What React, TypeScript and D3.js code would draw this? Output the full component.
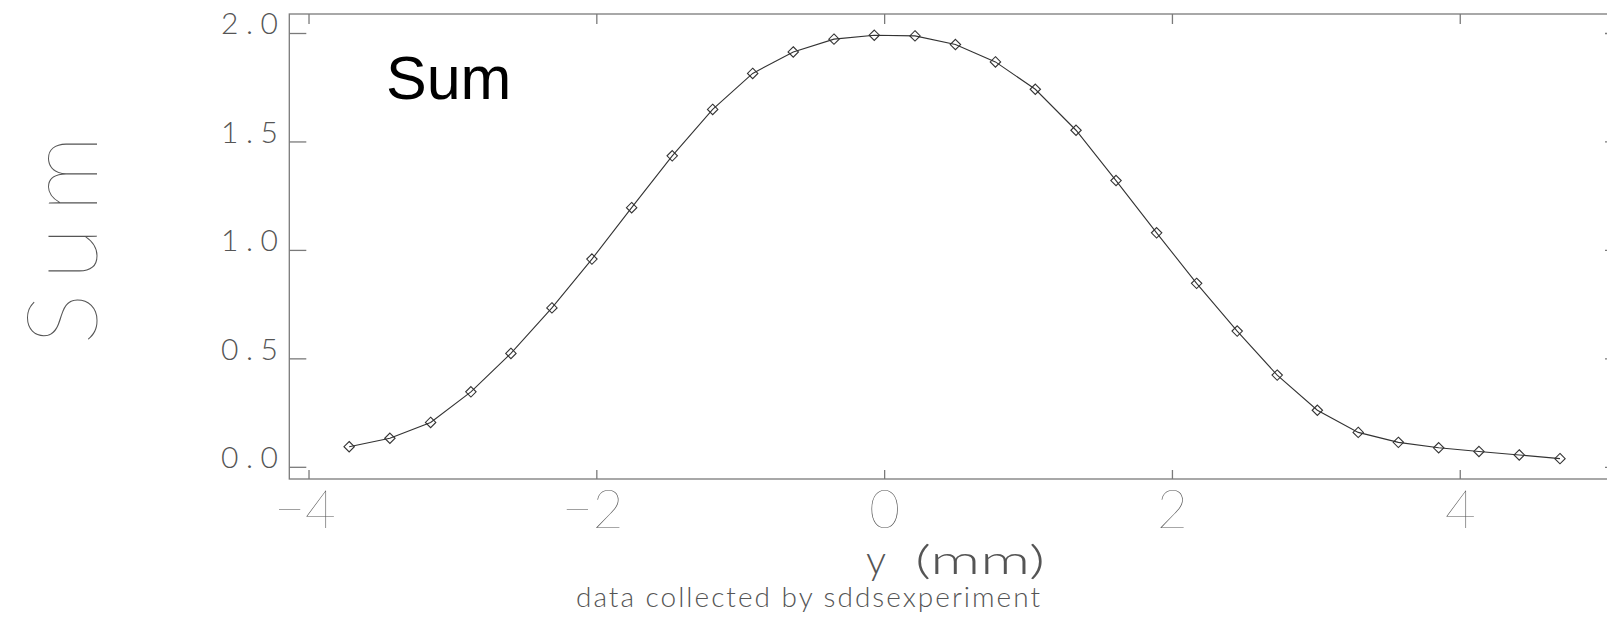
import React from "react";
import * as d3 from "d3";

const xValues = [
  -3.721, -3.438, -3.155, -2.875, -2.597, -2.312, -2.034, -1.758, -1.476, -1.195,
  -0.917, -0.635, -0.352, -0.072, 0.211, 0.492, 0.77, 1.047, 1.33, 1.608,
  1.89, 2.168, 2.45, 2.728, 3.007, 3.291, 3.57, 3.85, 4.13, 4.41, 4.693,
];
const sumValues = [
  0.095, 0.134, 0.207, 0.348, 0.525, 0.735, 0.96, 1.197, 1.436, 1.65,
  1.816, 1.915, 1.974, 1.992, 1.989, 1.949, 1.869, 1.743, 1.554, 1.322,
  1.081, 0.848, 0.628, 0.425, 0.263, 0.161, 0.115, 0.09, 0.073, 0.057, 0.04,
];
const xTicks = [-4, -2, 0, 2, 4];
const xTickLabels = ["\u22124", "\u22122", "0", "2", "4"];
const yTicks = [0, 0.5, 1.0, 1.5, 2.0];
const yTickLabels = ["0.0", "0.5", "1.0", "1.5", "2.0"];

const W = 1607;
const H = 624;
const left = 289.3;
const right = 1622;
const top = 14;
const bottom = 479;

const thinFont = "Lato, Inter, 'DejaVu Sans', sans-serif";
const axisGray = "#7a7a7a";
const textGray = "#555";

export default function App() {
  const x = d3.scaleLinear().domain([-4.137, 5.124]).range([left, right]);
  const y = d3.scaleLinear().domain([-0.0539, 2.0899]).range([bottom, top]);
  const pts: [number, number][] = xValues.map((v, i) => [v, sumValues[i]]);
  const line = d3
    .line<[number, number]>()
    .x((d) => x(d[0]))
    .y((d) => y(d[1]));
  const r = 5.2;
  return (
    <svg
      width={W}
      height={H}
      style={{ position: "absolute", left: 0, top: 0, background: "#fff" }}
    >
      <rect x={0} y={0} width={W} height={H} fill="#fff" />
      <rect
        x={left}
        y={top}
        width={right - left}
        height={bottom - top}
        fill="none"
        stroke={axisGray}
        strokeWidth={1.3}
      />
      {xTicks.map((t) => (
        <g key={"xt" + t}>
          <line x1={x(t)} x2={x(t)} y1={bottom} y2={bottom - 9} stroke={axisGray} strokeWidth={1.3} />
          <line x1={x(t)} x2={x(t)} y1={top} y2={top + 10} stroke={axisGray} strokeWidth={1.3} />
        </g>
      ))}
      {yTicks.map((t) => (
        <g key={"yt" + t}>
          <line x1={left} x2={left + 17} y1={y(t)} y2={y(t)} stroke={axisGray} strokeWidth={1.3} />
          <line x1={right} x2={right - 17} y1={y(t)} y2={y(t)} stroke={axisGray} strokeWidth={1.3} />
        </g>
      ))}
      {yTicks.map((t, i) => (
        <text
          key={"yl" + t}
          x={278}
          y={y(t) + 1}
          textAnchor="end"
          fontFamily={thinFont}
          fontWeight={300}
          fontSize={30}
          fill={textGray}
          textLength={57}
          lengthAdjust="spacing"
        >
          {yTickLabels[i]}
        </text>
      ))}
      {xTicks.map((t, i) => (
        <text
          key={"xl" + t}
          x={x(t) - (t < 0 ? 4 : 0)}
          y={528}
          textAnchor="middle"
          fontFamily={thinFont}
          fontWeight={100}
          fontSize={53}
          fill={textGray}
        >
          {xTickLabels[i]}
        </text>
      ))}
      <text
        x={866}
        y={574}
        fontFamily={thinFont}
        fontWeight={300}
        fontSize={40}
        fill={textGray}
      >
        y
      </text>
      <text
        x={915}
        y={574}
        fontFamily={thinFont}
        fontWeight={300}
        fontSize={40}
        fill={textGray}
        textLength={130}
        lengthAdjust="spacingAndGlyphs"
      >
        (mm)
      </text>
      <text
        x={808}
        y={607}
        textAnchor="middle"
        fontFamily={thinFont}
        fontWeight={300}
        fontSize={28}
        fill={textGray}
        textLength={464}
        lengthAdjust="spacing"
      >
        data collected by sddsexperiment
      </text>
      <text
        transform={`translate(97, 240) rotate(-90)`}
        x={0}
        y={0}
        textAnchor="middle"
        fontFamily={thinFont}
        fontWeight={100}
        fontSize={98}
        fill={textGray}
        textLength={210}
        lengthAdjust="spacing"
      >
        Sum
      </text>
      <path d={line(pts) || ""} fill="none" stroke="#333" strokeWidth={1.1} />
      {pts.map((d, i) => (
        <path
          key={"m" + i}
          d={`M${x(d[0])},${y(d[1]) - r}L${x(d[0]) + r},${y(d[1])}L${x(d[0])},${y(d[1]) + r}L${x(d[0]) - r},${y(d[1])}Z`}
          fill="none"
          stroke="#333"
          strokeWidth={1.1}
        />
      ))}
      <text
        x={386}
        y={98.5}
        fontFamily="'Liberation Sans', Arial, sans-serif"
        fontSize={61}
        fill="#000"
      >
        Sum
      </text>
    </svg>
  );
}
